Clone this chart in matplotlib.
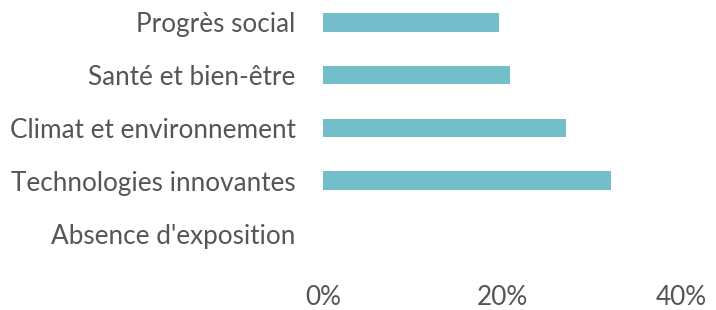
import matplotlib
matplotlib.use("Agg")
import matplotlib.pyplot as plt

categories = ["Progrès social", "Santé et bien-être", "Climat et environnement",
              "Technologies innovantes", "Absence d'exposition"]
values = [19.7, 20.9, 27.1, 32.2, 0.0]
xticks = [0, 20, 40]
xticklabels = ["0%", "20%", "40%"]

plt.rcParams['font.family'] = ['Lato', 'DejaVu Sans']

fig = plt.figure(figsize=(7.16, 3.10), dpi=100)
ax = fig.add_axes([323.3/716, 1-260/310, 357.7/716, 260/310])

ypos = list(range(len(categories)))
ax.barh(ypos, values, height=0.355, color="#74BDCB", linewidth=0)
ax.set_xlim(0, 40)
ax.set_ylim(4.5, -0.42)
ax.set_yticks(ypos)
ax.set_yticklabels(categories)
ax.set_xticks(xticks)
ax.set_xticklabels(xticklabels)
for s in ax.spines.values():
    s.set_visible(False)
ax.tick_params(axis='both', length=0, colors="#555555", labelsize=18.8)
ax.tick_params(axis='y', pad=20)
ax.tick_params(axis='x', pad=18)

fig.savefig("out.png", dpi=100)
